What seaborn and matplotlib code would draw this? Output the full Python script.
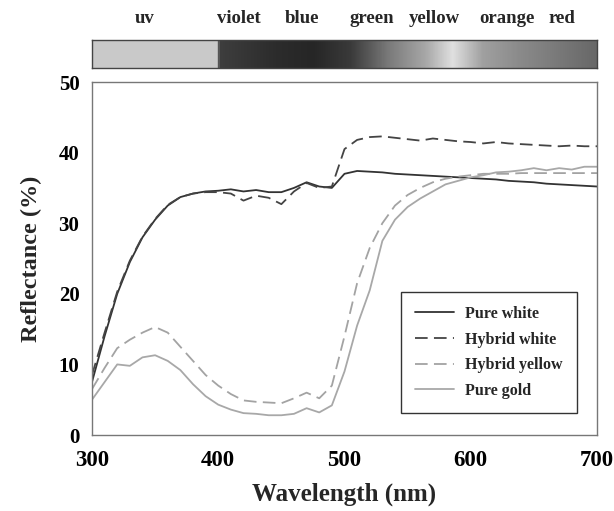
import numpy as np
import pandas as pd
import matplotlib
matplotlib.use("Agg")
import matplotlib.pyplot as plt
import seaborn as sns
from matplotlib.colors import LinearSegmentedColormap

# ---------------- data ----------------
wavelength = [300, 310, 320, 330, 340, 350, 360, 370, 380, 390, 400,
              410, 420, 430, 440, 450, 460, 470, 480, 490, 500,
              510, 520, 530, 540, 550, 560, 570, 580, 590, 600,
              610, 620, 630, 640, 650, 660, 670, 680, 690, 700]

pure_white = [7.5, 14.0, 20.0, 24.5, 28.0, 30.5, 32.5, 33.7, 34.2, 34.5, 34.6,
              34.8, 34.5, 34.7, 34.4, 34.4, 35.0, 35.8, 35.2, 35.0, 37.0,
              37.4, 37.3, 37.2, 37.0, 36.9, 36.8, 36.7, 36.6, 36.5, 36.4,
              36.3, 36.2, 36.0, 35.9, 35.8, 35.6, 35.5, 35.4, 35.3, 35.2]

hybrid_white = [8.5, 14.5, 20.3, 24.7, 28.1, 30.6, 32.6, 33.7, 34.2, 34.4, 34.4,
                34.2, 33.2, 33.9, 33.6, 32.7, 34.5, 35.7, 35.0, 35.2, 40.5,
                41.8, 42.2, 42.3, 42.1, 41.9, 41.7, 42.0, 41.8, 41.6, 41.5,
                41.3, 41.5, 41.3, 41.2, 41.1, 41.0, 40.9, 41.0, 40.9, 40.9]

hybrid_yellow = [6.5, 9.5, 12.3, 13.5, 14.5, 15.3, 14.5, 12.5, 10.5, 8.5, 7.0,
                 5.8, 4.9, 4.7, 4.6, 4.5, 5.2, 6.0, 5.2, 7.0, 14.0,
                 21.5, 26.5, 30.0, 32.5, 34.0, 35.0, 35.8, 36.3, 36.6, 36.8,
                 37.0, 37.0, 37.0, 37.1, 37.1, 37.1, 37.1, 37.1, 37.1, 37.1]

pure_gold = [5.0, 7.5, 10.0, 9.8, 11.0, 11.3, 10.5, 9.2, 7.2, 5.5, 4.3,
             3.6, 3.1, 3.0, 2.8, 2.8, 3.0, 3.8, 3.2, 4.2, 9.0,
             15.5, 20.5, 27.5, 30.5, 32.3, 33.5, 34.5, 35.5, 36.0, 36.5,
             36.8, 37.2, 37.3, 37.5, 37.8, 37.5, 37.8, 37.6, 38.0, 38.0]

series_names = ["Pure white", "Hybrid white", "Hybrid yellow", "Pure gold"]

band_labels = ["uv", "violet", "blue", "green", "yellow", "orange", "red"]
band_label_nm = [342, 416, 466, 522, 571, 629, 672]

x_ticks = [300, 400, 500, 600, 700]
y_ticks = [0, 10, 20, 30, 40, 50]

# ---------------- build long table ----------------
frames = []
for name, vals in zip(series_names, [pure_white, hybrid_white, hybrid_yellow, pure_gold]):
    frames.append(pd.DataFrame({"Wavelength": wavelength, "Reflectance": vals, "Series": name}))
df = pd.concat(frames, ignore_index=True)

sns.set_theme(style="white")
plt.rcParams["font.family"] = ["Liberation Serif", "DejaVu Serif"]
plt.rcParams["font.weight"] = "bold"

fig = plt.figure(figsize=(6.14, 5.11), dpi=100)
ax = fig.add_axes([0.1498, 0.1487, 0.8225, 0.6908])

palette = {"Pure white": "#333333", "Hybrid white": "#444444",
           "Hybrid yellow": "#a3a3a3", "Pure gold": "#a8a8a8"}
dashes = {"Pure white": "", "Hybrid white": (7, 3.5),
          "Hybrid yellow": (7, 3.5), "Pure gold": ""}

sns.lineplot(data=df, x="Wavelength", y="Reflectance", hue="Series", style="Series",
             hue_order=series_names, style_order=series_names,
             palette=palette, dashes=dashes, linewidth=1.3, ax=ax)

ax.set_xlim(300, 700)
ax.set_ylim(0, 50)
ax.set_xticks(x_ticks)
ax.set_yticks(y_ticks)
ax.tick_params(axis="both", colors="#777777", labelcolor="black",
               direction="inout", length=8, width=1)
ax.tick_params(axis="x", labelsize=16.5, pad=7)
ax.tick_params(axis="y", labelsize=15, pad=5)
for lab in ax.get_xticklabels() + ax.get_yticklabels():
    lab.set_fontweight("bold")
for sp in ax.spines.values():
    sp.set_color("#777777")
    sp.set_linewidth(1.0)
ax.set_xlabel("Wavelength (nm)", fontsize=18, fontweight="bold", labelpad=8)
ax.set_ylabel("Reflectance (%)", fontsize=17.5, fontweight="bold", labelpad=12)

leg = ax.legend(loc="lower right", bbox_to_anchor=(0.96, 0.062), frameon=True,
                fancybox=False, edgecolor="black", prop={"weight": "bold", "size": 11.5},
                handlelength=2.4, borderpad=0.9, labelspacing=0.6, handletextpad=0.7,
                borderaxespad=0)
leg.get_frame().set_linewidth(1.0)
for h in leg.get_lines():
    h.set_linewidth(1.3)

# ---------------- spectrum bar ----------------
bax = fig.add_axes([0.1498, 0.8669, 0.8225, 0.0548])
grad_nm = np.linspace(400, 700, 600)
cmap = LinearSegmentedColormap.from_list("spec", [
    (0.0, "#3e3e3e"), (0.15, "#2c2c2c"), (0.25, "#262626"), (0.35, "#3a3a3a"),
    (0.45, "#7a7a7a"), (0.55, "#a8a8a8"), (0.62, "#e0e0e0"), (0.70, "#a0a0a0"),
    (0.80, "#8a8a8a"), (1.0, "#686868")])
bax.imshow(grad_nm[np.newaxis, :], cmap=cmap, aspect="auto",
           extent=[400, 700, 0, 1], vmin=400, vmax=700)
bax.axvspan(300, 400, color="#c9c9c9")
bax.axvline(400, color="#555555", lw=1)
bax.set_xlim(300, 700)
bax.set_ylim(0, 1)
bax.set_xticks([])
bax.set_yticks([])
for sp in bax.spines.values():
    sp.set_color("#444444")
    sp.set_linewidth(1.0)
for lab, pos in zip(band_labels, band_label_nm):
    bax.text(pos, 1.45, lab, ha="center", va="bottom", fontsize=13.5, fontweight="bold")

fig.savefig("out.png", dpi=100)
